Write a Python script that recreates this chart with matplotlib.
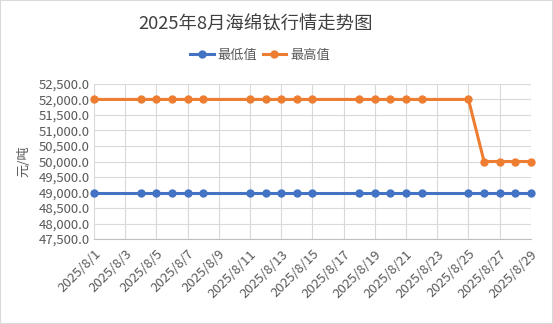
import matplotlib.pyplot as plt
from matplotlib.ticker import FuncFormatter, MultipleLocator
import pandas as pd

plt.rcParams['font.family'] = ['Noto Sans CJK SC', 'DejaVu Sans']

dates = ["2025-08-01", "2025-08-04", "2025-08-05", "2025-08-06", "2025-08-07", "2025-08-08",
         "2025-08-11", "2025-08-12", "2025-08-13", "2025-08-14", "2025-08-15",
         "2025-08-18", "2025-08-19", "2025-08-20", "2025-08-21", "2025-08-22",
         "2025-08-25", "2025-08-26", "2025-08-27", "2025-08-28", "2025-08-29"]
low = [49000] * 21
high = [52000] * 17 + [50000] * 4

x = pd.to_datetime(dates)
blue = "#4472c4"
orange = "#ed7d31"
txt = "#595959"

fig = plt.figure(figsize=(5.53, 3.24), dpi=100)
ax = fig.add_axes([0.170, 0.262, 0.790, 0.479])

ax.plot(x, low, color=blue, lw=2.2, marker="o", ms=5, label="最低值", clip_on=False)
ax.plot(x, high, color=orange, lw=2.2, marker="o", ms=5, label="最高值", clip_on=False)

ax.set_ylim(47500, 52500)
ax.yaxis.set_major_locator(MultipleLocator(500))
ax.yaxis.set_major_formatter(FuncFormatter(lambda v, p: f"{v:,.1f}"))

start = pd.Timestamp("2025-08-01")
end = pd.Timestamp("2025-08-29")
ax.set_xlim(start, end)
ticks = pd.date_range(start, end, freq="2D")
ax.set_xticks(ticks)
ax.set_xticklabels([f"{d.year}/{d.month}/{d.day}" for d in ticks], rotation=45,
                   ha="right", rotation_mode="anchor")

ax.grid(True, color="#d9d9d9", lw=0.8)
ax.set_axisbelow(True)
for s in ax.spines.values():
    s.set_visible(False)
ax.spines["bottom"].set_visible(True)
ax.spines["bottom"].set_color("#bfbfbf")
ax.tick_params(length=0, colors=txt, labelsize=9.5, pad=3)
ax.tick_params(axis="x", pad=6)

ax.set_ylabel("元/吨", color=txt, fontsize=9.5, labelpad=6)

fig.text(0.463, 0.925, "2025年8月海绵钛行情走势图", ha="center", va="center",
         fontsize=13.2, color="#404040")
fig.legend(loc="center", bbox_to_anchor=(0.47, 0.83), ncol=2, frameon=False,
           fontsize=9.5, labelcolor=txt, handlelength=1.8, columnspacing=0.4,
           handletextpad=0.3)

fig.patches.append(plt.Rectangle((0, 0), 1, 1, transform=fig.transFigure,
                                 fill=False, edgecolor="#d9d9d9", lw=1.5))

fig.savefig("out.png", dpi=100)
